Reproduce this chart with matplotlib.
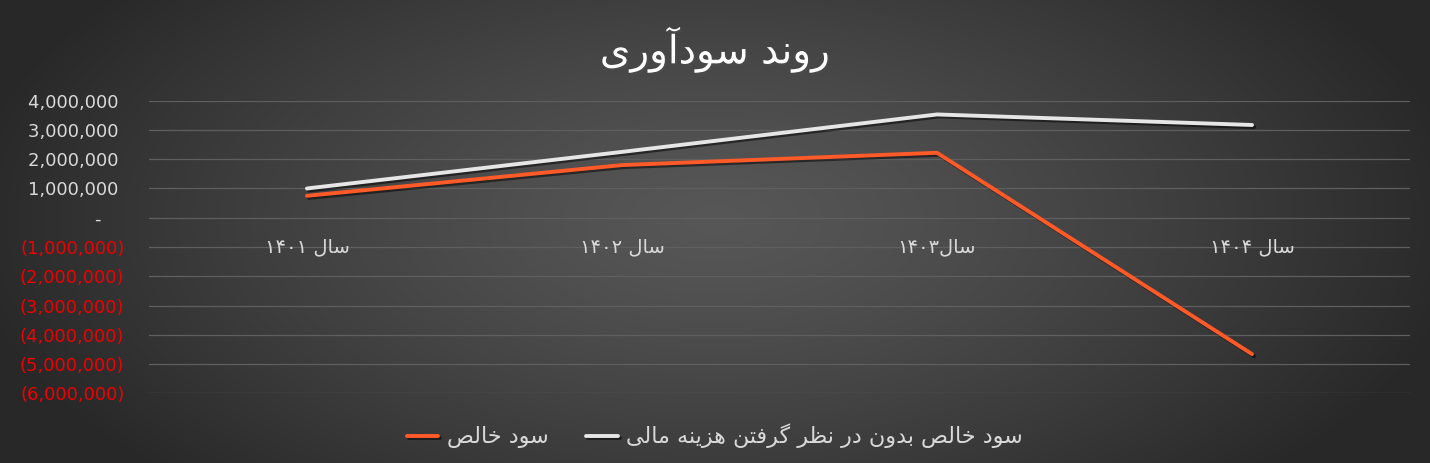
import matplotlib
matplotlib.use("Agg")
import matplotlib.pyplot as plt
import matplotlib.patheffects as pe
import numpy as np

# data
years = ["سال ۱۴۰۱", "سال ۱۴۰۲", "سال۱۴۰۳", "سال ۱۴۰۴"]
profit_no_fin = [1000000, 2250000, 3530000, 3170000]
net_profit = [750000, 1800000, 2220000, -4660000]
series_names = ["سود خالص", "سود خالص بدون در نظر گرفتن هزینه مالی"]
title_txt = "روند سودآوری"
yticks = [4000000, 3000000, 2000000, 1000000, 0, -1000000, -2000000,
          -3000000, -4000000, -5000000, -6000000]

# very small arabic/persian shaper (no reshaper lib available)
FORMS = {  # iso, fin, ini, med
    'ا': ('\uFE8D', '\uFE8E', None, None),
    'آ': ('\uFE81', '\uFE82', None, None),
    'ب': ('\uFE8F', '\uFE90', '\uFE91', '\uFE92'),
    'ت': ('\uFE95', '\uFE96', '\uFE97', '\uFE98'),
    'خ': ('\uFEA5', '\uFEA6', '\uFEA7', '\uFEA8'),
    'د': ('\uFEA9', '\uFEAA', None, None),
    'ر': ('\uFEAD', '\uFEAE', None, None),
    'ز': ('\uFEAF', '\uFEB0', None, None),
    'س': ('\uFEB1', '\uFEB2', '\uFEB3', '\uFEB4'),
    'ص': ('\uFEB9', '\uFEBA', '\uFEBB', '\uFEBC'),
    'ظ': ('\uFEC5', '\uFEC6', '\uFEC7', '\uFEC8'),
    'ف': ('\uFED1', '\uFED2', '\uFED3', '\uFED4'),
    'ل': ('\uFEDD', '\uFEDE', '\uFEDF', '\uFEE0'),
    'م': ('\uFEE1', '\uFEE2', '\uFEE3', '\uFEE4'),
    'ن': ('\uFEE5', '\uFEE6', '\uFEE7', '\uFEE8'),
    'ه': ('\uFEE9', '\uFEEA', '\uFEEB', '\uFEEC'),
    'و': ('\uFEED', '\uFEEE', None, None),
    'ی': ('\uFBFC', '\uFBFD', '\uFBFE', '\uFBFF'),
    'گ': ('\uFB92', '\uFB93', '\uFB94', '\uFB95'),
}


def fa(s):
    out = []
    for i, c in enumerate(s):
        if c not in FORMS:
            out.append(c)
            continue
        p = s[i - 1] if i > 0 else ''
        n = s[i + 1] if i + 1 < len(s) else ''
        jp = p in FORMS and FORMS[p][2] is not None
        jn = FORMS[c][2] is not None and n in FORMS
        f = FORMS[c]
        if jp and jn:
            out.append(f[3])
        elif jp:
            out.append(f[1])
        elif jn:
            out.append(f[2])
        else:
            out.append(f[0])
    # visual order: reverse, keep digit runs LTR
    toks = []
    for c in out:
        d = c.isdigit()
        if toks and toks[-1][0] == d and d:
            toks[-1][1] += c
        else:
            toks.append([d, c])
    return ''.join(t[1] if t[0] else t[1][::-1] for t in toks[::-1])


plt.rcParams['font.family'] = ['DejaVu Sans']

fig = plt.figure(figsize=(14.3, 4.63), dpi=100)

# background gradient
bg = fig.add_axes([0, 0, 1, 1], zorder=-10)
xx, yy = np.meshgrid(np.linspace(-1, 1, 400), np.linspace(-1, 1, 200))
r = np.sqrt((xx / 1.05) ** 2 + ((yy + 0.05) / 1.6) ** 2)
v = 0.34 - 0.18 * np.clip(r, 0, 1) ** 1.3
bg.imshow(np.dstack([v, v, v]), aspect='auto', extent=[0, 1, 0, 1])
bg.axis('off')

ax = fig.add_axes([0.1045, 0.1505, 0.8812, 0.632])
ax.patch.set_alpha(0)
x = np.arange(len(years))
shadow = [pe.SimpleLineShadow(offset=(1.5, -1.5), alpha=0.5), pe.Normal()]
l1, = ax.plot(x, net_profit, color='#ff5a28', lw=2.8,
              solid_capstyle='round', path_effects=shadow, zorder=3)
l2, = ax.plot(x, profit_no_fin, color='#e6e6e6', lw=2.8,
              solid_capstyle='round', path_effects=shadow, zorder=3)

ax.set_xlim(-0.5, len(years) - 0.5)
ax.set_ylim(-6000000, 4000000)
ax.set_yticks(yticks)
ax.grid(axis='y', color='#5f5f5f', lw=0.9)
ax.set_axisbelow(True)
for s in ax.spines.values():
    s.set_visible(False)
ax.tick_params(length=0)
ax.set_xticks([])


def lab(val):
    if val > 0:
        return f"{val:,.0f} "
    if val < 0:
        return f"({-val:,.0f})"
    return "-    "


ax.set_yticklabels([lab(t) for t in yticks], fontsize=13)
for t, val in zip(ax.get_yticklabels(), yticks):
    t.set_color('#f00000' if val < 0 else '#d9d9d9')
ax.tick_params(axis='y', pad=18)

# category labels sit on the zero line
for i, y in enumerate(years):
    ax.text(i, -1000000, fa(y), ha='center', va='center',
            fontsize=14, color='#d9d9d9')

fig.text(0.5, 0.892, fa(title_txt), ha='center', va='center', fontsize=28,
         color='white',
         path_effects=[pe.withSimplePatchShadow(offset=(1.5, -1.5), alpha=0.6)])

leg = fig.legend([l1, l2], [fa(n) for n in series_names], loc='center',
                 bbox_to_anchor=(0.5, 0.058), ncol=2, frameon=False,
                 fontsize=16, handlelength=1.4, columnspacing=1.7,
                 handletextpad=0.4)
for t in leg.get_texts():
    t.set_color('#d9d9d9')

fig.savefig('out.png', dpi=100)
